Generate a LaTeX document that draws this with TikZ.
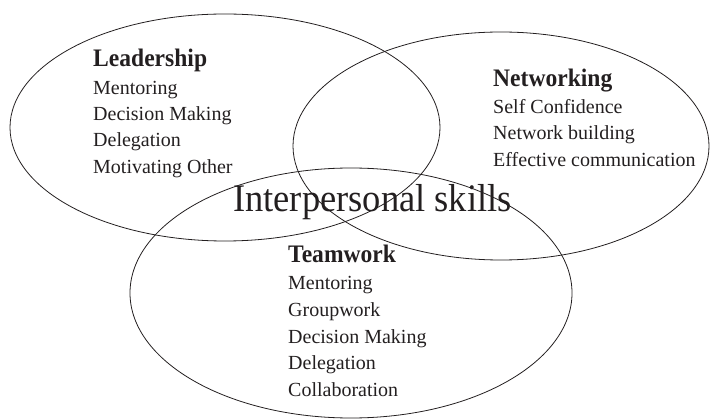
\documentclass[tikz,border=0pt]{standalone}
\usepackage{fontspec}
\setmainfont{Liberation Serif}
\newfontfamily\narrowserif[FakeStretch=0.935]{Liberation Serif}
\definecolor{ink}{HTML}{231F20}
\begin{document}
\begin{tikzpicture}[x=1pt,y=-1pt,
  ring/.style={draw=ink,line width=0.8pt},
  head/.style={anchor=base west,inner sep=0pt,text=ink,font=\narrowserif\fontsize{25.2}{28}\selectfont\bfseries},
  item/.style={anchor=base west,inner sep=0pt,text=ink,font=\fontsize{20}{24}\selectfont},
  title/.style={anchor=base west,inner sep=0pt,text=ink,font=\narrowserif\fontsize{39}{42}\selectfont}]
\useasboundingbox (0,0) rectangle (711,419);
\draw[ring] (225,127.5) ellipse [x radius=215pt, y radius=113.5pt];
\draw[ring] (501,146) ellipse [x radius=208pt, y radius=114pt];
\draw[ring] (351,293) ellipse [x radius=221pt, y radius=125pt];
% Leadership
\node[head] (lh) at (93,67) {Leadership};
\node[item] (l1) at (93,94.5) {Mentoring};
\node[item] (l2) at (93,120.5) {Decision Making};
\node[item] (l3) at (93,147) {Delegation};
\node[item] (l4) at (93,173.5) {Motivating Other};
% Networking
\node[head] (nh) at (493,87) {Networking};
\node[item] (n1) at (493,113.5) {Self Confidence};
\node[item] (n2) at (493,140) {Network building};
\node[item] (n3) at (493,166.5) {Effective communication};
% Teamwork
\node[head] (th) at (288,262) {Teamwork};
\node[item] (t1) at (288,290) {Mentoring};
\node[item] (t2) at (288,316.5) {Groupwork};
\node[item] (t3) at (288,343) {Decision Making};
\node[item] (t4) at (288,369.5) {Delegation};
\node[item] (t5) at (288,396) {Collaboration};
% centre
\node[title] (ip) at (233,212) {Interpersonal skills};
\end{tikzpicture}
\end{document}
